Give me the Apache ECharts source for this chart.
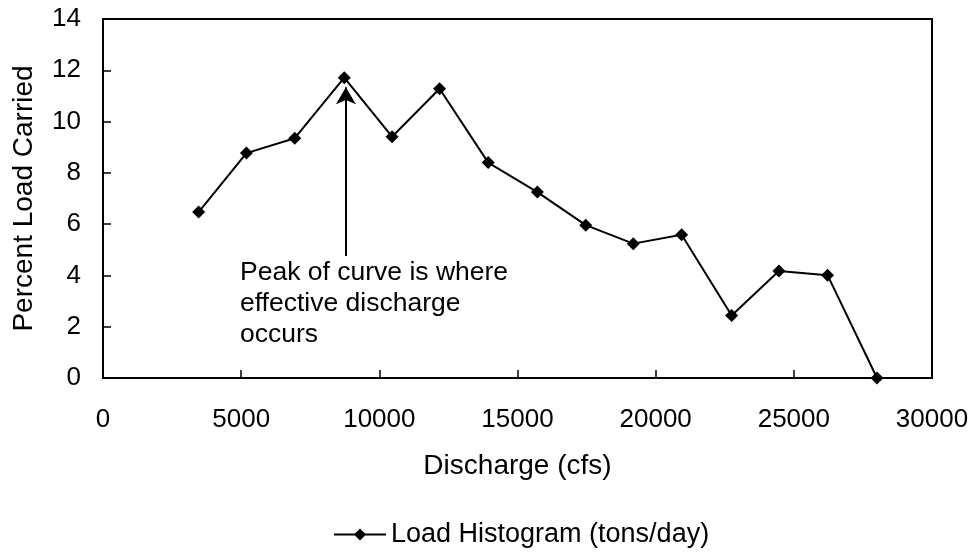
<!DOCTYPE html>
<html lang="en">
<head>
    <meta charset="utf-8">
    <title>Load Histogram</title>
    <script src="https://cdn.jsdelivr.net/npm/echarts@6/dist/echarts.min.js"></script>
    <style>
        html, body { margin: 0; padding: 0; background: #fff; }
        #chart { width: 973px; height: 554px; }
    </style>
</head>
<body>
<div id="chart"></div>

<script>
    // discharge (cfs) and percent load carried
    var discharge = [3460, 5190, 6940, 8730, 10460, 12180, 13940, 15720, 17470, 19190, 20940, 22750, 24460, 26220, 28010];
    var loadPct = [6.47, 8.77, 9.35, 11.71, 9.41, 11.28, 8.40, 7.25, 5.96, 5.24, 5.59, 2.44, 4.17, 4.01, 0];
    var seriesName = 'Load Histogram (tons/day)';
    // arrow pointing at the peak
    var arrowFrom = [8790, 4.76];
    var arrowTo = [8790, 11.34];
    var noteText = 'Peak of curve is where\neffective discharge\noccurs';

    var font = '"Liberation Sans", Arial, sans-serif';
    var points = discharge.map(function (d, i) { return [d, loadPct[i]]; });

    var chart = echarts.init(document.getElementById('chart'));
    chart.setOption({
        animation: false,
        textStyle: { fontFamily: font, color: '#000' },
        grid: {
            left: 103, right: 41, top: 19, bottom: 176,
            show: true, borderColor: '#000', borderWidth: 2
        },
        legend: {
            bottom: 1,
            left: 328,
            itemWidth: 52,
            itemHeight: 15,
            itemGap: 8,
            textStyle: { fontSize: 27, color: '#000', fontFamily: font },
            data: [seriesName]
        },
        xAxis: {
            type: 'value',
            min: 0, max: 30000, interval: 5000,
            name: 'Discharge (cfs)',
            nameLocation: 'middle',
            nameGap: 74,
            nameTextStyle: { fontSize: 28, color: '#000' },
            axisLine: { lineStyle: { color: '#000', width: 2 } },
            axisTick: { inside: true, length: 8, lineStyle: { color: '#000', width: 1.5 } },
            axisLabel: {
                fontSize: 26, color: '#000', margin: 29,
                formatter: function (v) { return String(v); }
            },
            splitLine: { show: false }
        },
        yAxis: {
            type: 'value',
            min: 0, max: 14, interval: 2,
            name: 'Percent Load Carried',
            nameLocation: 'middle',
            nameGap: 65,
            nameTextStyle: { fontSize: 28, color: '#000' },
            axisLine: { show: true, lineStyle: { color: '#000', width: 2 } },
            axisTick: { show: true, inside: true, length: 8, lineStyle: { color: '#000', width: 1.5 } },
            axisLabel: { fontSize: 26, color: '#000', margin: 22 },
            splitLine: { show: false }
        },
        series: [{
            name: seriesName,
            type: 'line',
            data: points,
            symbol: 'diamond',
            symbolSize: 13,
            color: '#000',
            lineStyle: { color: '#000', width: 2 },
            itemStyle: { color: '#000' },
            markLine: {
                silent: true,
                symbol: ['none', 'arrow'],
                symbolSize: [15, 17],
                label: { show: false },
                lineStyle: { color: '#000', width: 2, type: 'solid' },
                data: [[{ coord: arrowFrom }, { coord: arrowTo }]]
            }
        }],
        graphic: [{
            type: 'text',
            left: 240,
            top: 257,
            style: {
                text: noteText,
                font: '26.5px ' + font,
                fill: '#000',
                lineHeight: 31
            }
        }]
    });
</script>
</body>
</html>
